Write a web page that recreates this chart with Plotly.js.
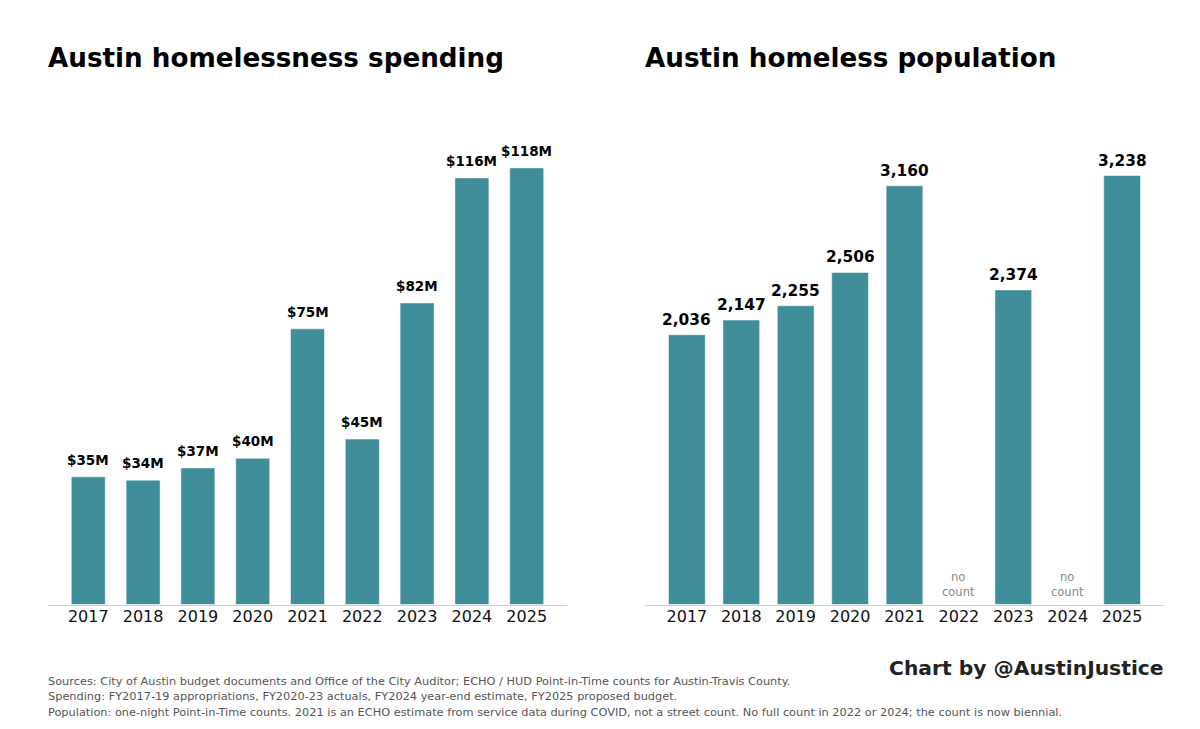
<!DOCTYPE html>
<html><head><meta charset="utf-8">
<script src="https://cdn.plot.ly/plotly-3.0.0.min.js"></script>
<style>html,body{margin:0;padding:0;background:#fff}</style></head>
<body><div id="chart" style="width:1200px;height:729px"></div>
<script>
const years = [2017,2018,2019,2020,2021,2022,2023,2024,2025];
const spending = [34.5,33.6,36.9,39.5,74.5,44.7,81.5,115.3,118];
const spendingLabels = ["$35M","$34M","$37M","$40M","$75M","$45M","$82M","$116M","$118M"];
const popYears = [2017,2018,2019,2020,2021,2023,2025];
const population = [2036,2147,2255,2506,3160,2374,3238];
const popLabels = ["2,036","2,147","2,255","2,506","3,160","2,374","3,238"];
const noCountYears = [2022,2024];
const teal = "#3E8D99";
const font = "DejaVu Sans, sans-serif";
const W = 1200, H = 729;
const yDomain = [1-604.5/H, 1-100/H];

const traces = [
  {type:"bar",x:years,y:spending,width:0.62,xaxis:"x",yaxis:"y",
   marker:{color:teal,line:{color:"#ffffff",width:0.5}},hoverinfo:"skip"},
  {type:"bar",x:popYears,y:population,width:0.675,xaxis:"x2",yaxis:"y2",
   marker:{color:teal,line:{color:"#ffffff",width:0.5}},hoverinfo:"skip"}
];
const ann = [];
years.forEach((yr,i)=>ann.push({xref:"x",yref:"y",x:yr,y:spending[i],text:spendingLabels[i],showarrow:false,
  yanchor:"bottom",yshift:7,font:{family:font,size:13.5,color:"#000",weight:700}}));
popYears.forEach((yr,i)=>ann.push({xref:"x2",yref:"y2",x:yr,y:population[i],text:popLabels[i],showarrow:false,
  yanchor:"bottom",yshift:4,font:{family:font,size:15.4,color:"#000",weight:700}}));
noCountYears.forEach(yr=>ann.push({xref:"x2",yref:"y2",x:yr,y:0,text:"no<br>count",showarrow:false,
  yanchor:"bottom",yshift:4,font:{family:font,size:11.5,color:"#888888"}}));
function paperText(x,y,text,size,color,weight,xanchor){
  const right = xanchor==="right";
  ann.push({xref:"paper",yref:"paper",x:x/W,y:1-y/H,text:text,showarrow:false,xanchor:xanchor||"left",yanchor:"middle",
    align:"left",xshift:right?2:-2,font:{family:font,size:size,color:color,weight:weight||400}});
}
paperText(48,58,"Austin homelessness spending",26.2,"#000",700);
paperText(645,58,"Austin homeless population",26.2,"#000",700);
paperText(1164,668,"Chart by @AustinJustice",20.3,"#222222",700,"right");
paperText(48,681,"Sources: City of Austin budget documents and Office of the City Auditor; ECHO / HUD Point-in-Time counts for Austin-Travis County.",11.33,"#555555");
paperText(48,696,"Spending: FY2017-19 appropriations, FY2020-23 actuals, FY2024 year-end estimate, FY2025 proposed budget.",11.33,"#555555");
paperText(48,712,"Population: one-night Point-in-Time counts. 2021 is an ECHO estimate from service data during COVID, not a street count. No full count in 2022 or 2024; the count is now biennial.",11.33,"#555555");

function xa(domain,range){return {domain:domain,range:range,tickmode:"array",tickvals:years,ticktext:years.map(String),
  showgrid:false,zeroline:false,showline:true,linecolor:"#cccccc",linewidth:1,ticks:"",ticklabelstandoff:-3,
  tickfont:{family:font,size:16,color:"#111"},fixedrange:true};}
function ya(domain,range,anchor){return {domain:domain,range:range,anchor:anchor,visible:false,showgrid:false,zeroline:false,fixedrange:true};}
const layout = {width:W,height:H,margin:{l:0,r:0,t:0,b:0},paper_bgcolor:"#fff",plot_bgcolor:"#fff",showlegend:false,
  xaxis:Object.assign(xa([48/W,567/W],[2016.265,2025.735]),{anchor:"y"}),
  yaxis:ya(yDomain,[0,136.35],"x"),
  xaxis2:Object.assign(xa([645/W,1164/W],[2016.23,2025.77]),{anchor:"y2"}),
  yaxis2:ya(yDomain,[0,3808],"x2"),
  annotations:ann};
Plotly.newPlot("chart",traces,layout,{displayModeBar:false,staticPlot:true});
</script></body></html>
